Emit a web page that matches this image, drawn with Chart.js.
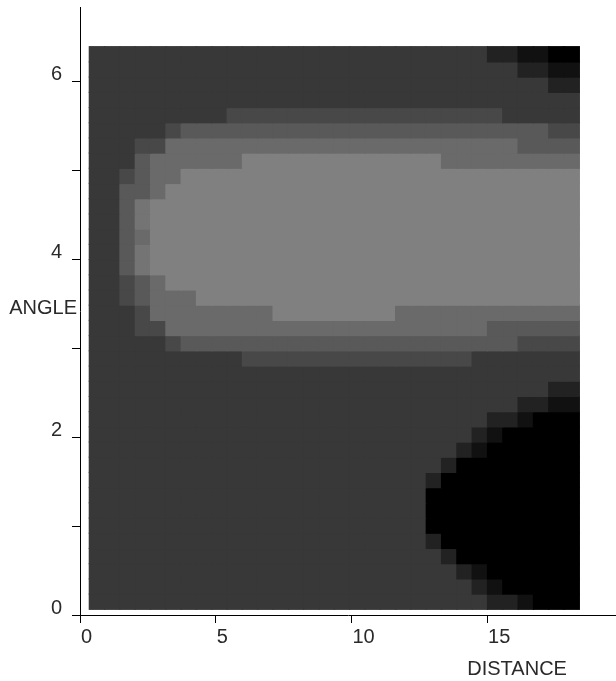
<!DOCTYPE html>
<html>
<head>
<meta charset="utf-8">
<title>ANGLE vs DISTANCE</title>
<script src="https://cdn.jsdelivr.net/npm/chart.js@4.4.1/dist/chart.umd.min.js"></script>
<style>
  html, body { margin: 0; padding: 0; background: #fff; }
  canvas { display: block; }
</style>
</head>
<body>
<canvas id="myChart" width="616" height="681"></canvas>
<script>
// distance of each grid column (centre)
const distance = [0.625, 1.189, 1.754, 2.318, 2.882, 3.447, 4.011, 4.575,
                  5.139, 5.704, 6.268, 6.832, 7.397, 7.961, 8.525, 9.090,
                  9.654, 10.218, 10.782, 11.347, 11.911, 12.475, 13.040, 13.604,
                  14.168, 14.733, 15.297, 15.861, 16.425, 16.990, 17.554, 18.118];
// angle row boundaries, bottom to top
const angleEdges = [0.064, 0.235, 0.406, 0.577, 0.748, 0.919, 1.090, 1.261,
                    1.432, 1.603, 1.774, 1.944, 2.115, 2.286, 2.457, 2.628,
                    2.799, 2.970, 3.141, 3.312, 3.483, 3.654, 3.825, 3.996,
                    4.167, 4.338, 4.509, 4.680, 4.851, 5.022, 5.193, 5.364,
                    5.534, 5.705, 5.876, 6.047, 6.218, 6.389];
// shade level of every cell, top row first (0 = darkest, 8 = lightest)
const levelRows = [
  "33333333 33333333 33333333 33221100",
  "33333333 33333333 33333333 33332211",
  "33333333 33333333 33333333 33333322",
  "33333333 33333333 33333333 33333333",
  "33333333 34444444 44444444 44433333",
  "33333455 55555555 55555555 55555544",
  "33344666 66666666 66666666 66665555",
  "33356666 66888888 88888886 66666666",
  "33456688 88888888 88888888 88888888",
  "33556888 88888888 88888888 88888888",
  "33578888 88888888 88888888 88888888",
  "33578888 88888888 88888888 88888888",
  "33568888 88888888 88888888 88888888",
  "33578888 88888888 88888888 88888888",
  "33578888 88888888 88888888 88888888",
  "33456888 88888888 88888888 88888888",
  "33456668 88888888 88888888 88888888",
  "33346666 66668888 88886666 66666666",
  "33344666 66666666 66666666 66555555",
  "33333455 55555555 55555555 55554444",
  "33333333 33444444 44444444 43333333",
  "33333333 33333333 33333333 33333333",
  "33333333 33333333 33333333 33333322",
  "33333333 33333333 33333333 33332211",
  "33333333 33333333 33333333 33221000",
  "33333333 33333333 33333333 32100000",
  "33333333 33333333 33333333 21000000",
  "33333333 33333333 33333332 00000000",
  "33333333 33333333 33333320 00000000",
  "33333333 33333333 33333300 00000000",
  "33333333 33333333 33333300 00000000",
  "33333333 33333333 33333300 00000000",
  "33333333 33333333 33333320 00000000",
  "33333333 33333333 33333332 00000000",
  "33333333 33333333 33333333 21000000",
  "33333333 33333333 33333333 32100000",
  "33333333 33333333 33333333 33221000"
];
const xTickLabels = ['0', '5', '10', '15'];
const yTickLabels = ['0', '', '2', '', '4', '', '6'];

const grays = ['#000000', '#111111', '#222222', '#383838', '#484848',
               '#595959', '#6a6a6a', '#747474', '#808080'];

const FONT = '"Liberation Sans", Arial, sans-serif';
Chart.defaults.font.family = FONT;
Chart.defaults.font.size = 20;
Chart.defaults.color = '#2a2a2a';

const nRows = levelRows.length;
const datasets = levelRows.map(function(row, r) {
  const levels = row.replace(/ /g, '').split('').map(Number);
  const j = nRows - 1 - r;
  return {
    data: distance.map(function(d) {
      return {x: d, y: [angleEdges[j], angleEdges[j + 1]]};
    }),
    backgroundColor: levels.map(function(l) { return grays[l]; }),
    borderWidth: 0,
    inflateAmount: 0.6,
    grouped: false,
    barPercentage: 1,
    categoryPercentage: 1
  };
});

const axisTitles = {
  id: 'axisTitles',
  afterDraw(chart) {
    const ctx = chart.ctx;
    const xs = chart.scales.x, ys = chart.scales.y;
    ctx.save();
    ctx.font = '20px ' + FONT;
    ctx.fillStyle = '#2a2a2a';
    ctx.textAlign = 'right';
    ctx.textBaseline = 'middle';
    ctx.fillText('ANGLE', chart.chartArea.left - 3, ys.getPixelForValue(3.45));
    ctx.textAlign = 'left';
    ctx.textBaseline = 'alphabetic';
    ctx.fillText('DISTANCE', xs.getPixelForValue(14.27), chart.chartArea.bottom + 60);
    ctx.restore();
  }
};

const ctx = document.getElementById('myChart').getContext('2d');
new Chart(ctx, {
  type: 'bar',
  data: {datasets: datasets},
  plugins: [axisTitles],
  options: {
    responsive: false,
    animation: false,
    events: [],
    layout: {padding: {top: 7, right: 0, left: 0, bottom: 0}},
    plugins: {legend: {display: false}, tooltip: {enabled: false}},
    scales: {
      x: {
        type: 'linear',
        min: 0,
        max: 19.75,
        offset: false,
        afterFit: function(s) { s.height = 66; s.paddingLeft = 0; s.paddingRight = 0; },
        grid: {offset: false, drawOnChartArea: false, drawTicks: true, tickLength: 8, color: '#000'},
        border: {display: true, color: '#000', width: 1},
        ticks: {
          stepSize: 5,
          includeBounds: false,
          align: 'start',
          labelOffset: 1,
          padding: 2,
          maxRotation: 0,
          callback: function(v, i) { return xTickLabels[i]; }
        }
      },
      y: {
        type: 'linear',
        min: 0,
        max: 6.835,
        afterFit: function(s) { s.width = 80; s.paddingTop = 0; s.paddingBottom = 0; },
        grid: {drawOnChartArea: false, drawTicks: true, tickLength: 8, color: '#000'},
        border: {display: true, color: '#000', width: 1},
        ticks: {
          stepSize: 1,
          includeBounds: false,
          labelOffset: -7,
          padding: 10,
          callback: function(v, i) { return yTickLabels[i]; }
        }
      }
    }
  }
});
</script>
</body>
</html>
